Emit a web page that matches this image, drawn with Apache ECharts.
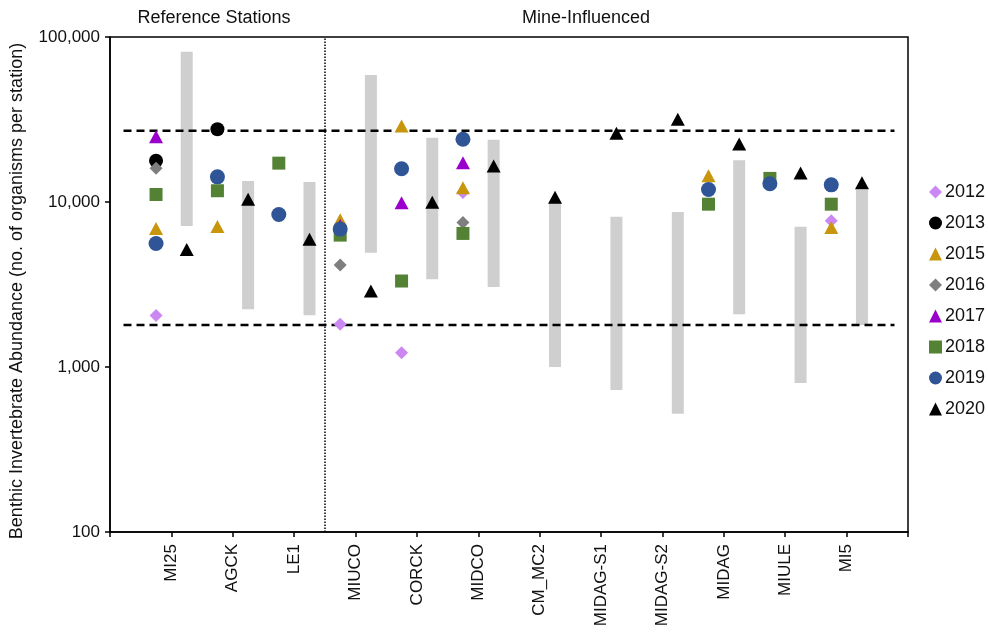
<!DOCTYPE html>
<html>
<head>
<meta charset="utf-8">
<title>Benthic Invertebrate Abundance</title>
<script src="https://cdn.jsdelivr.net/npm/echarts@6/dist/echarts.min.js"></script>
<style>
  html, body { margin: 0; padding: 0; background: #fff; }
  #chart { width: 988px; height: 637px; }
</style>
</head>
<body>
<div id="chart"></div>
<script>
// Stations along the x axis (first three are reference stations)
const stations = ['MI25', 'AGCK', 'LE1', 'MIUCO', 'CORCK', 'MIDCO', 'CM_MC2',
  'MIDAG-S1', 'MIDAG-S2', 'MIDAG', 'MIULE', 'MI5'];

// Abundance per station for each sampling year (null = not sampled)
const y2012 = [2050, null, null, 1815, 1220, 11400, null, null, null, null, null, 7700];
const y2013 = [17800, 27600, null, null, null, null, null, null, null, null, null, null];
const y2015 = [6900, 7100, null, 7800, 28900, 12200, null, null, null, 14400, null, 7000];
const y2016 = [16000, null, null, 4150, null, 7500, null, null, null, null, null, null];
const y2017 = [24900, null, null, 7200, 9900, 17300, null, null, null, null, null, null];
const y2018 = [11100, 11700, 17200, 6300, 3320, 6450, null, null, null, 9700, 13900, 9700];
const y2019 = [5600, 14200, 8400, 6850, 15900, 24000, null, null, null, 11900, 12900, 12700];
const y2020 = [5150, 10400, 5950, 2890, 9950, 16500, 10700, 26100, 31700, 22500, 15000, 13100];

// Historical range at each station (low / high)
const rangeLow  = [7150, 2240, 2060, 4930, 3400, 3050, 1000, 725, 520, 2090, 800, 1800];
const rangeHigh = [81500, 13400, 13200, 58900, 24500, 23800, 9950, 8150, 8700, 17900, 7080, 11900];

// Normal range benchmarks
const upperBenchmark = 27000;
const lowerBenchmark = 1800;

// Y-axis ticks
const yTicks = [100, 1000, 10000, 100000];

const FONT = '"Liberation Sans", Arial, Helvetica, sans-serif';
const TXT = '#111';

const years = [
  { name: '2012', values: y2012, symbol: 'diamond', size: [13, 13], color: '#CC88F2', side: -1 },
  { name: '2013', values: y2013, symbol: 'circle', size: 14, color: '#000000', side: -1 },
  { name: '2015', values: y2015, symbol: 'triangle', size: [14, 13], color: '#C8960C', side: -1 },
  { name: '2016', values: y2016, symbol: 'diamond', size: [13, 13], color: '#7F7F7F', side: -1 },
  { name: '2017', values: y2017, symbol: 'triangle', size: [14, 13], color: '#9900CC', side: -1 },
  { name: '2018', values: y2018, symbol: 'rect', size: [13, 13], color: '#548235', side: -1 },
  { name: '2019', values: y2019, symbol: 'circle', size: 15, color: '#2F5597', side: -1 },
  { name: '2020', values: y2020, symbol: 'triangle', size: [14, 13], color: '#000000', side: 1 }
];

const OFFSET = 0.25;

const yearSeries = years.map(function (y, k) {
  const pts = [];
  y.values.forEach(function (v, i) {
    if (v != null) pts.push([i + 1 + y.side * OFFSET, v]);
  });
  return {
    name: y.name,
    type: 'scatter',
    data: pts,
    symbol: y.symbol,
    symbolSize: y.size,
    itemStyle: { color: y.color, opacity: 1 },
    z: 5 + k,
    silent: true
  };
});

const rangeSeries = {
  name: 'range',
  type: 'custom',
  data: stations.map(function (s, i) { return [i + 1 + OFFSET, rangeLow[i], rangeHigh[i]]; }),
  encode: { x: 0, y: [1, 2] },
  renderItem: function (params, api) {
    const x = api.value(0);
    const top = api.coord([x, api.value(2)]);
    const bot = api.coord([x, api.value(1)]);
    const w = 12;
    return {
      type: 'rect',
      shape: { x: top[0] - w / 2, y: top[1], width: w, height: bot[1] - top[1] },
      style: { fill: '#D0CFD0' }
    };
  },
  z: 1,
  silent: true,
  markLine: {
    silent: true,
    symbol: ['none', 'none'],
    label: { show: false },
    lineStyle: { color: '#000', type: [1.5, 1.5], width: 1.5 },
    data: [{ xAxis: 3.5 }]
  }
};

function benchmarkLine(name, v) {
  return {
    name: name,
    type: 'line',
    data: [[0.22, v], [12.78, v]],
    symbol: 'none',
    lineStyle: { color: '#000', width: 2.5, type: [8, 5] },
    z: 3,
    silent: true
  };
}

const chart = echarts.init(document.getElementById('chart'), null, { renderer: 'canvas' });

chart.setOption({
  animation: false,
  backgroundColor: '#fff',
  grid: {
    left: 110, right: 80, top: 37, bottom: 105,
    show: true, borderColor: '#000', borderWidth: 1.5, backgroundColor: 'transparent'
  },
  xAxis: {
    type: 'value',
    min: 0, max: 13, interval: 1,
    axisLine: { lineStyle: { color: '#000', width: 1.5 } },
    axisTick: { show: true, length: 5, lineStyle: { color: '#000', width: 1.5 } },
    splitLine: { show: false },
    axisLabel: {
      rotate: 90,
      margin: 12,
      fontSize: 17,
      fontFamily: FONT,
      color: TXT,
      formatter: function (v) { return stations[v - 1] || ''; }
    }
  },
  yAxis: {
    type: 'log',
    logBase: 10,
    min: yTicks[0], max: yTicks[yTicks.length - 1],
    axisLine: { show: true, lineStyle: { color: '#000', width: 1.5 } },
    axisTick: { show: true, length: 5, lineStyle: { color: '#000', width: 1.5 } },
    splitLine: { show: false },
    minorTick: { show: false },
    axisLabel: {
      margin: 10,
      fontSize: 17,
      fontFamily: FONT,
      color: TXT,
      formatter: function (v) { return Number(v).toLocaleString('en-US'); }
    }
  },
  legend: {
    orient: 'vertical',
    left: 929,
    top: 183,
    padding: 0,
    itemWidth: 13,
    itemHeight: 13,
    itemGap: 13,
    data: years.map(function (y) { return y.name; }),
    textStyle: { fontSize: 18, lineHeight: 18, fontFamily: FONT, color: TXT, padding: [0, 0, 0, -2] },
    selectedMode: false
  },
  graphic: [
    {
      type: 'text', x: 214, y: 18,
      style: { text: 'Reference Stations', font: '18px ' + FONT, fill: TXT, textAlign: 'center', textVerticalAlign: 'middle' }
    },
    {
      type: 'text', x: 586, y: 18,
      style: { text: 'Mine-Influenced', font: '18px ' + FONT, fill: TXT, textAlign: 'center', textVerticalAlign: 'middle' }
    },
    {
      type: 'text', x: 17, y: 291, rotation: Math.PI / 2,
      style: {
        text: 'Benthic Invertebrate Abundance (no. of organisms per station)',
        font: '18px ' + FONT, fill: TXT, textAlign: 'center', textVerticalAlign: 'middle'
      }
    }
  ],
  series: [rangeSeries,
    benchmarkLine('upper', upperBenchmark),
    benchmarkLine('lower', lowerBenchmark)
  ].concat(yearSeries)
});
</script>
</body>
</html>
